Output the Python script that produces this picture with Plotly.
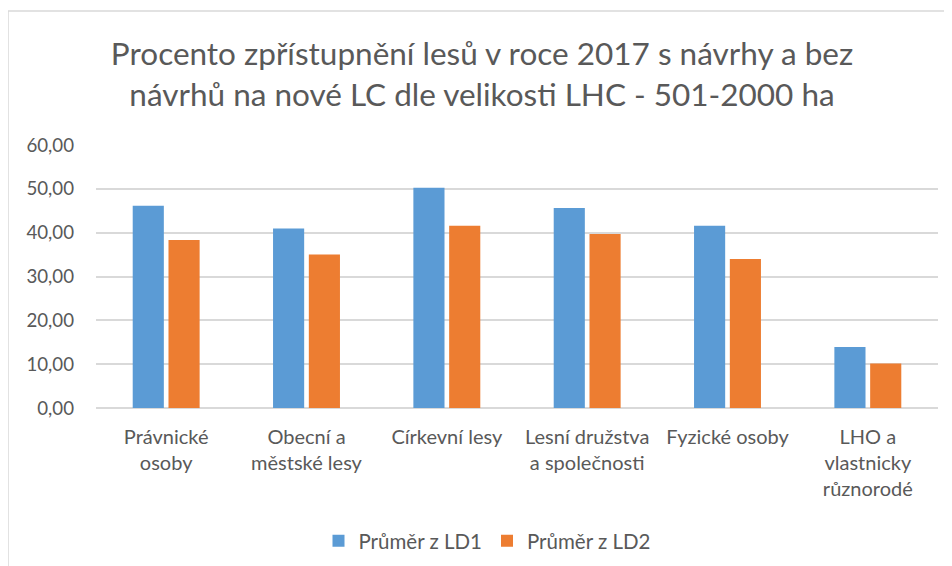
import plotly.graph_objects as go

categories = [
    "Právnické<br>osoby",
    "Obecní a<br>městské lesy",
    "Církevní lesy",
    "Lesní družstva<br>a společnosti",
    "Fyzické osoby",
    "LHO a<br>vlastnicky<br>různorodé",
]
ld1 = [46.15, 40.97, 50.27, 45.6, 41.58, 13.94]
ld2 = [38.3, 35.03, 41.58, 39.68, 33.97, 10.13]
series_names = ["Průměr z LD1", "Průměr z LD2"]
title_text = "Procento zpřístupnění lesů v roce 2017 s návrhy a bez<br>návrhů na nové LC dle velikosti LHC - 501-2000 ha"

FONT = "Lato"
GRAY = "#595959"

fig = go.Figure()
fig.add_trace(go.Bar(x=categories, y=ld1, name=series_names[0],
                     marker=dict(color="#5B9BD5", line=dict(width=0))))
fig.add_trace(go.Bar(x=categories, y=ld2, name=series_names[1],
                     marker=dict(color="#ED7D31", line=dict(width=0))))

# page body has an 8px margin, so the figure is drawn 8px smaller/offset
W, H = 944, 558
L, R, T, B = 88, 14, 137, 158
pw, ph = W - L - R, H - T - B

fig.update_layout(
    width=W, height=H,
    margin=dict(l=L, r=R, t=T, b=B, pad=0, autoexpand=False),
    paper_bgcolor="white", plot_bgcolor="white",
    separators=", ",
    barmode="group", bargap=0.49, bargroupgap=0.13,
    font=dict(family=FONT, color=GRAY, size=18),
    title=dict(text=title_text, x=(W / 2 + 2) / W, xanchor="center",
               y=1 - 57 / H, yanchor="top",
               font=dict(family=FONT, size=31.5, color=GRAY)),
    legend=dict(orientation="h", x=(479 - L) / pw, xanchor="center",
                y=-(541 - 408) / ph, yanchor="middle",
                font=dict(family=FONT, size=20.5, color=GRAY),
                itemwidth=30, traceorder="normal"),
    showlegend=True,
    xaxis=dict(showgrid=False, showline=False, zeroline=False, ticks="",
               ticklabelstandoff=15,
               tickfont=dict(family=FONT, size=20, color=GRAY)),
    yaxis=dict(range=[0, 60], dtick=10, tickformat=".2f",
               showgrid=True, gridcolor="#D9D9D9", gridwidth=1.5,
               zeroline=True, zerolinecolor="#D9D9D9", zerolinewidth=1.5,
               showline=False, ticks="", ticklabelstandoff=21,
               tickfont=dict(family=FONT, size=18.7, color=GRAY)),
    shapes=[dict(type="rect", xref="paper", yref="paper",
                 x0=(0 - L) / pw, x1=1.2, y0=-1.0, y1=1 + (T - 3) / ph,
                 line=dict(color="#D9D9D9", width=1.5), fillcolor="rgba(0,0,0,0)",
                 layer="below")],
)

fig.write_html("out.html")
